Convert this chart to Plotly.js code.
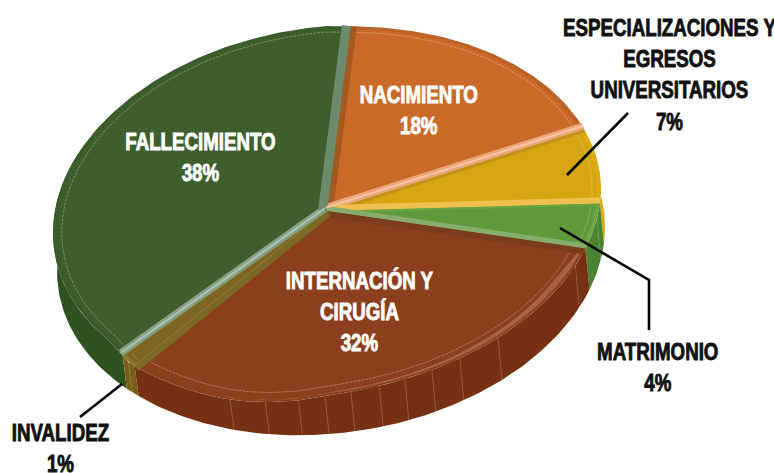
<!DOCTYPE html>
<html>
<head>
<meta charset="utf-8">
<script src="https://cdn.plot.ly/plotly-3.0.1.min.js"></script>
<style>html,body{margin:0;padding:0;background:#fff}#c{width:774px;height:473px}</style>
</head>
<body>
<div id="c"></div>
<script>
// DATA
var categories = ["NACIMIENTO","ESPECIALIZACIONES Y<br>EGRESOS<br>UNIVERSITARIOS","MATRIMONIO","INTERNACIÓN Y<br>CIRUGÍA","INVALIDEZ","FALLECIMIENTO"];
var values = [18,7,4,32,1,38];
var faceColors = ["#c96a28","#d6a511","#5e9a3b","#8b3f1d","#7d6420","#3e5f2d"];
var rimColors  = ["#bb6226","#e0ab10","#6da643","#8b3f1d","#8a7328","#3a5b2b"];
var wallColors = ["#a85c1e","#e4a90e","#4a8431","#753111","#7a5f18","#2f5222"];
var edgeStart  = ["#a25a20","#c3921a","#6aa53f","#7a3c1a","#8a7a30","#87a088"];
var edgeEnd    = ["#eba67c","#efc04f","#86ad6c","#7b6826","#8a7a30","#6b8c6c"];
var startWidth = [6,3,2,6,1,7];
var endWidth   = [7,6,5,6,1,9];

// PIE GEOMETRY (picture space)
var startAngle = 5;
var C = {x:327, y:211, rx:274, ry:185, s:0.08, lobes:true};
var B = {x:331, y:249, rx:274, ry:185, s:0.08, lobes:false};
var D = Math.PI/180;
function pt(g,t,f){
  var S=Math.sin(t*D), K=Math.cos(t*D), e=0;
  if(g.lobes){
    var p=Math.sqrt(Math.abs(S*K));
    if(S>0&&K>0) e=5*p;
    else if(S>0&&K<0) e=-6*p;
    else if(t>=180&&t<=226) e=8*Math.sin(Math.min(1,(t-180)/25)*Math.PI/2);
    else if(t>226&&t<232) e=8*(232-t)/6;
  }
  return [g.x+g.rx*f*S, g.y+f*(-g.ry*K-g.s*g.rx*S+e)];
}
function arc(g,a,b,f){var n=Math.max(2,Math.ceil(Math.abs(b-a))),o=[];for(var i=0;i<=n;i++)o.push(pt(g,a+(b-a)*i/n,f));return o;}
var total = values.reduce(function(s,v){return s+v;},0);
var bounds=[startAngle];
values.forEach(function(v,i){bounds.push(bounds[i]+v/total*360);});

var traces=[];
function poly(p,color){
  traces.push({type:'scatter',mode:'lines',x:p.map(function(q){return q[0];}),y:p.map(function(q){return q[1];}),
    fill:'toself',fillcolor:color,line:{width:0,color:color},hoverinfo:'skip',showlegend:false});
}
function line(p,color,w,dash){
  traces.push({type:'scatter',mode:'lines',x:p.map(function(q){return q[0];}),y:p.map(function(q){return q[1];}),
    line:{width:w,color:color,dash:dash||'solid'},hoverinfo:'skip',showlegend:false});
}
// side walls
[5,1,2,4,3].forEach(function(i){
  var a=bounds[i], b=bounds[i+1];
  if(i===5) b=295;
  var p=arc(C,a,b,1).concat(arc(B,b,a,1));
  p.push(p[0]);
  poly(p,wallColors[i]);
});
// thin rules on the walls
var wallRules=[115,141.4,151,157.5,163.5,169,175,180.4,186,193,200.7];
wallRules.forEach(function(t){line([pt(C,t,1),pt(B,t,1)],'rgba(235,190,160,0.4)',0.7);});
line([pt(C,100,1),pt(B,100,1)],'rgba(200,230,180,0.35)',0.7);
line([pt(C,226.5,1),pt(B,226.5,1)],'rgba(220,200,120,0.4)',0.7);
// top faces
function wedge(i,f){var p=[[C.x,C.y]].concat(arc(C,bounds[i],bounds[i+1],f));p.push([C.x,C.y]);return p;}
values.forEach(function(v,i){poly(wedge(i,1),rimColors[i]);});
values.forEach(function(v,i){poly(wedge(i,0.985),faceColors[i]);});
// tapered lighter bevel on the front of the brown face
(function(){
  var a=bounds[3]+1, b=205, n=60, outer=[], inner=[];
  for(var k=0;k<=n;k++){
    var t=a+(b-a)*k/n, u=k/n, w=0.03*Math.pow(1-u,1.3)*Math.min(1,u*8+0.3);
    outer.push(pt(C,t,0.99));
    inner.unshift(pt(C,t,0.99-w));
  }
  var p=outer.concat(inner);p.push(p[0]);
  poly(p,'#a9613f');
})();
values.forEach(function(v,i){
  line(arc(C,bounds[i]+1,bounds[i+1]-1,i===3?0.95:0.968),'rgba(255,235,215,0.45)',0.7,'3px,1px');
});
// bevel strips on the radial edges
function strip(t,o1,o2,color){
  var r=pt(C,t,1), dx=r[0]-C.x, dy=r[1]-C.y, L=Math.hypot(dx,dy), nx=-dy/L, ny=dx/L;
  poly([[C.x+nx*o1,C.y+ny*o1],[r[0]+nx*o1,r[1]+ny*o1],[r[0]+nx*o2,r[1]+ny*o2],[C.x+nx*o2,C.y+ny*o2],[C.x+nx*o1,C.y+ny*o1]],color);
}
values.forEach(function(v,i){
  strip(bounds[i],0,startWidth[i],edgeStart[i]);
  strip(bounds[i+1],-endWidth[i],0,edgeEnd[i]);
});
// highlights along the two brightest strips
strip(bounds[5],2.5,4.5,'#aec2ae');
strip(bounds[1],-4.5,-2.5,'#f6c6a4');

// leaders
var leaderX=[[628,567],[649,649,560],[80,122]];
var leaderY=[[113,175],[330,280,228],[417,384]];
leaderX.forEach(function(xs,k){
  traces.push({type:'scatter',mode:'lines',x:xs,y:leaderY[k],line:{width:2.6,color:'#000'},hoverinfo:'skip',showlegend:false});
});

// labels
var labelX=[419,669,658,359,60,200];
var labelY=[110,74,367,311,448,157];
var labelColor=['#fff','#111','#111','#fff','#111','#fff'];
var annotations=categories.map(function(c,i){
  return {x:labelX[i],y:labelY[i],xref:'x',yref:'y',showarrow:false,align:'center',xanchor:'center',yanchor:'middle',
    text:c+'<br>'+values[i]+'%',
    font:{family:'"Liberation Sans",sans-serif',size:24,color:labelColor[i],weight:700}};
});

Plotly.newPlot('c',traces,{
  width:774,height:473,margin:{l:0,r:0,t:0,b:0},
  paper_bgcolor:'#fff',plot_bgcolor:'#fff',showlegend:false,
  xaxis:{range:[0,774],visible:false,fixedrange:true},
  yaxis:{range:[473,0],visible:false,fixedrange:true},
  annotations:annotations
},{displayModeBar:false,staticPlot:true}).then(function(){
  // the reference lettering is a heavy condensed face: narrow and thicken the real text in place
  document.querySelectorAll('#c .annotation-text').forEach(function(t){
    t.style.transformBox='fill-box';
    t.style.transformOrigin='center';
    t.style.transform='scaleX(0.78)';
    t.style.stroke=getComputedStyle(t).fill;
    t.style.strokeWidth='0.9px';
  });
});
</script>
</body>
</html>
